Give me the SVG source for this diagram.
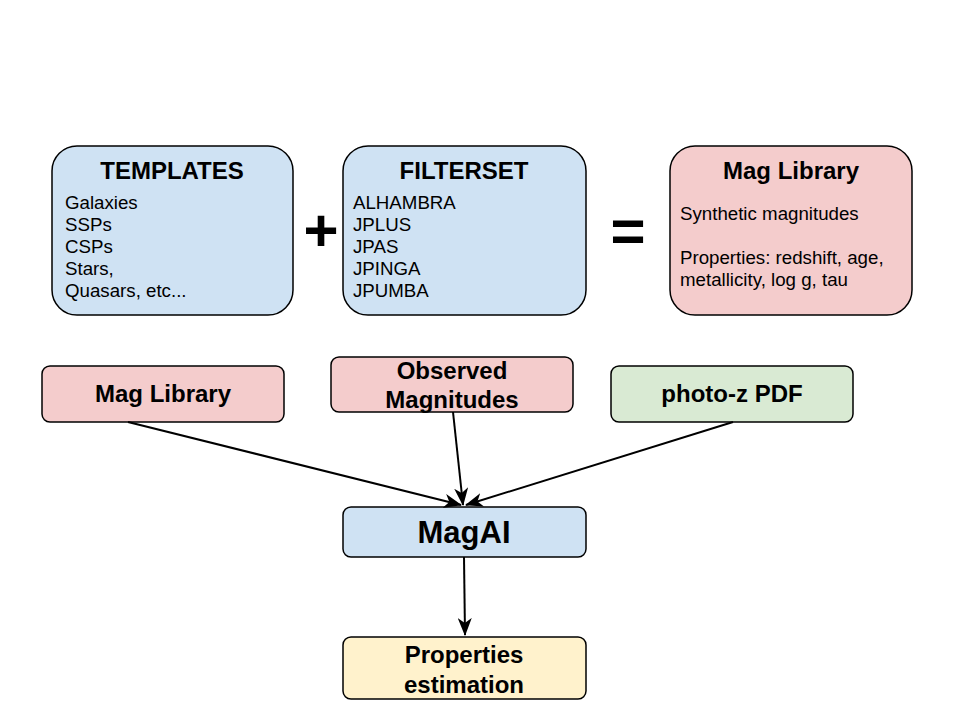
<svg xmlns="http://www.w3.org/2000/svg" width="960" height="720" viewBox="0 0 960 720">
<style>
.box{stroke:#000;stroke-width:1.5}
.blue{fill:#cfe2f3}.pink{fill:#f4cccc}.green{fill:#d9ead3}.yellow{fill:#fff2cc}
text{font-family:"Liberation Sans",Arial,sans-serif;fill:#000}
.t{font-size:24px;font-weight:bold;text-anchor:middle}
.l{font-size:18.7px}
.op{font-size:60px;font-weight:bold;text-anchor:middle}
.c{stroke:#000;stroke-width:2;fill:none}
</style>
<defs>
<marker id="ah" viewBox="0 0 18 14" refX="17" refY="7" markerWidth="18" markerHeight="14" markerUnits="userSpaceOnUse" orient="auto">
<path d="M0,0 L18,7 L0,14 L5,7 z" fill="#000"/>
</marker>
</defs>
<rect width="960" height="720" fill="#fff"/>
<g id="templates">
<rect class="box blue" x="52" y="146" width="241" height="169" rx="25"/>
<text class="t" x="172" y="179">TEMPLATES</text>
<text class="l" x="65" y="209">Galaxies</text>
<text class="l" x="65" y="231">SSPs</text>
<text class="l" x="65" y="253">CSPs</text>
<text class="l" x="65" y="275">Stars,</text>
<text class="l" x="65" y="297">Quasars, etc...</text>
</g>
<g id="plus"><text class="op" x="321" y="251">+</text></g>
<g id="filterset">
<rect class="box blue" x="343" y="146" width="243" height="169" rx="25"/>
<text class="t" x="464" y="179">FILTERSET</text>
<text class="l" x="353" y="209">ALHAMBRA</text>
<text class="l" x="353" y="231">JPLUS</text>
<text class="l" x="353" y="253">JPAS</text>
<text class="l" x="353" y="275">JPINGA</text>
<text class="l" x="353" y="297">JPUMBA</text>
</g>
<g id="equals"><text class="op" x="628" y="251">=</text></g>
<g id="maglib-top">
<rect class="box pink" x="670" y="146" width="242" height="169" rx="25"/>
<text class="t" x="791" y="179">Mag Library</text>
<text class="l" x="680" y="220">Synthetic magnitudes</text>
<text class="l" x="680" y="264">Properties: redshift, age,</text>
<text class="l" x="680" y="286">metallicity, log g, tau</text>
</g>
<g id="maglib">
<rect class="box pink" x="42" y="366" width="242" height="56" rx="8"/>
<text class="t" x="163" y="402">Mag Library</text>
</g>
<g id="observed">
<rect class="box pink" x="331" y="357" width="242" height="55" rx="8"/>
<text class="t" x="452" y="379">Observed</text>
<text class="t" x="452" y="408">Magnitudes</text>
</g>
<g id="photoz">
<rect class="box green" x="611" y="366" width="242" height="56" rx="8"/>
<text class="t" x="732" y="402">photo-z PDF</text>
</g>
<g id="magai">
<rect class="box blue" x="343" y="507" width="243" height="50" rx="8"/>
<text x="464" y="543" style="font-size:31px;font-weight:bold;text-anchor:middle">MagAI</text>
</g>
<g id="properties">
<rect class="box yellow" x="343" y="637" width="243" height="62" rx="8"/>
<text class="t" x="464" y="663">Properties</text>
<text class="t" x="464" y="693">estimation</text>
</g>
<g id="connectors">
<line class="c" x1="128" y1="422" x2="461" y2="505" marker-end="url(#ah)"/>
<line class="c" x1="453" y1="412" x2="463" y2="505" marker-end="url(#ah)"/>
<line class="c" x1="733" y1="422" x2="466" y2="505" marker-end="url(#ah)"/>
<line class="c" x1="464" y1="557" x2="465" y2="635" marker-end="url(#ah)"/>
</g>
</svg>
